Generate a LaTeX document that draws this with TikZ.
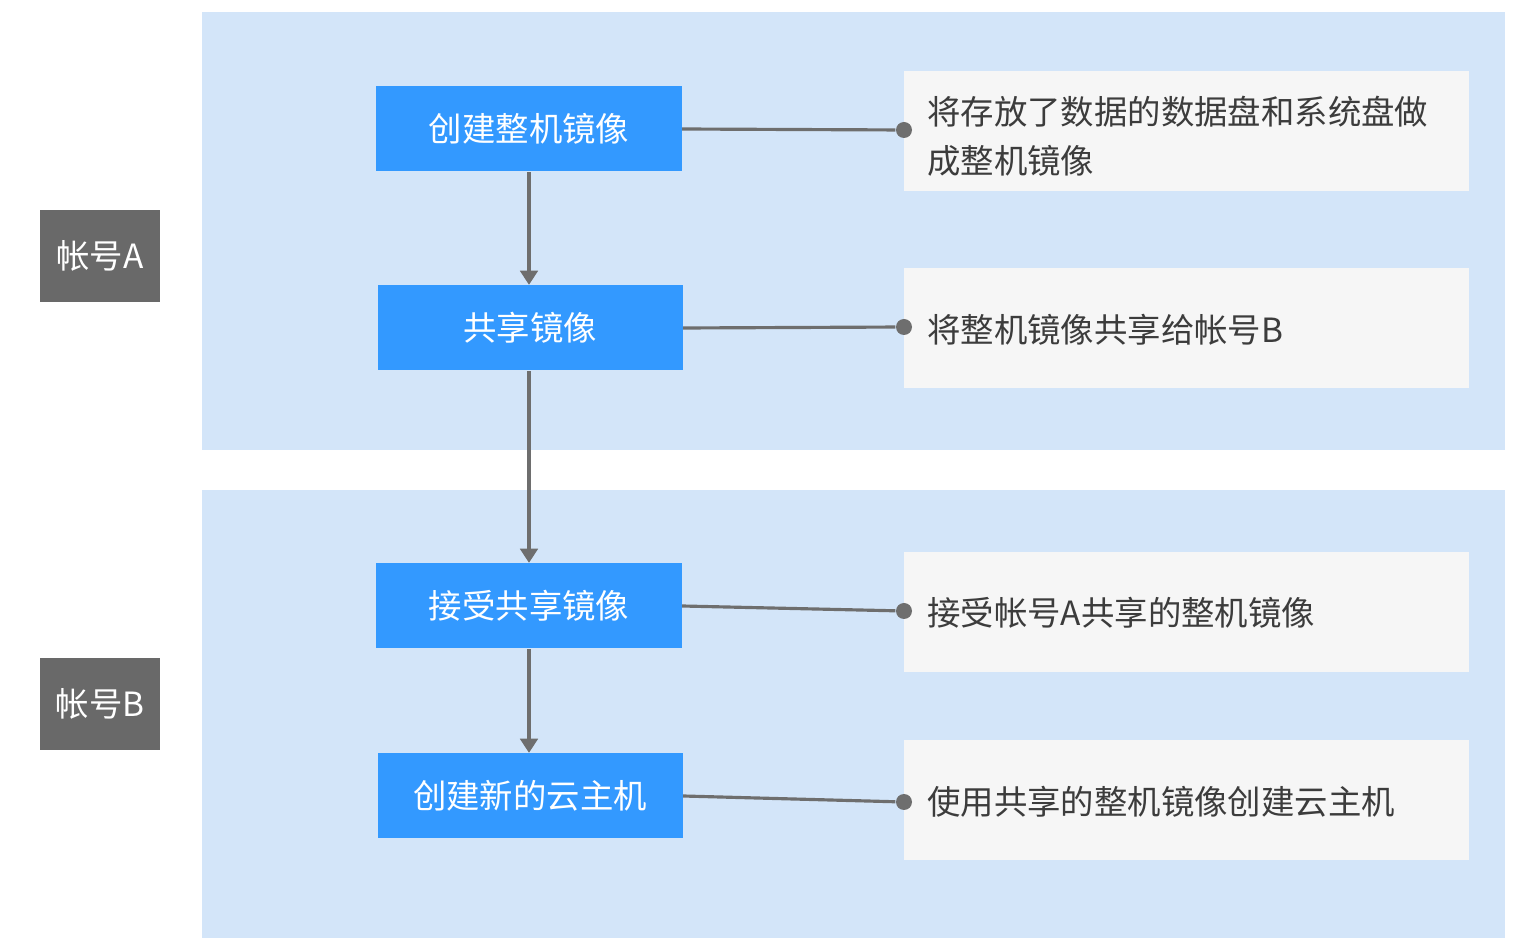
\documentclass[tikz,border=0pt]{standalone}
\usepackage{fontspec}
\setmainfont{Noto Sans CJK SC}
\usetikzlibrary{arrows.meta}
\definecolor{bandblue}{RGB}{211,229,249}
\definecolor{stepblue}{RGB}{51,153,255}
\definecolor{acctgray}{RGB}{105,105,105}
\definecolor{notegray}{RGB}{246,246,246}
\definecolor{linegray}{RGB}{110,110,110}
\definecolor{textgray}{RGB}{60,60,60}
\tikzset{
  stepbox/.style={fill=stepblue,text=white,minimum width=3.05cm,minimum height=0.85cm,inner sep=0pt,font=\fontsize{9.5pt}{11pt}\selectfont},
  acct/.style={fill=acctgray,text=white,minimum width=1.2cm,minimum height=0.92cm,inner sep=0pt,font=\fontsize{9.5pt}{11pt}\selectfont},
  note/.style={fill=notegray,text=textgray,minimum width=5.65cm,minimum height=1.2cm,inner sep=0pt,font=\fontsize{9.5pt}{13pt}\selectfont},
  link/.style={line width=0.9pt,draw=linegray},
  flow/.style={line width=0.9pt,draw=linegray,-{Triangle[length=4pt,width=5pt]}},
  dot/.style={circle,fill=linegray,minimum size=0.16cm,inner sep=0pt}
}
\begin{document}
\begin{tikzpicture}[x=1cm,y=1cm]
\useasboundingbox (0,0) rectangle (15.14,-9.47);

% bands
\fill[bandblue] (2.02,-0.12) rectangle (15.05,-4.50);
\fill[bandblue] (2.02,-4.90) rectangle (15.05,-9.38);

% accounts
\node[acct] (acctA) at (1.00,-2.56) {帐号A};
\node[acct] (acctB) at (1.00,-7.04) {帐号B};

% steps
\node[stepbox] (create) at (5.29,-1.29) {创建整机镜像};
\node[stepbox] (share) at (5.30,-3.28) {共享镜像};
\node[stepbox] (accept) at (5.29,-6.06) {接受共享镜像};
\node[stepbox] (newvm) at (5.30,-7.96) {创建新的云主机};

% notes
\node[note] (n1) at (11.865,-1.31) {};
\node[note] (n2) at (11.865,-3.28) {};
\node[note] (n3) at (11.865,-6.12) {};
\node[note] (n4) at (11.865,-8.00) {};
\node[anchor=west,align=left,text=textgray,font=\fontsize{9.5pt}{14pt}\selectfont] at (9.15,-1.36) {将存放了数据的数据盘和系统盘做\\成整机镜像};
\node[anchor=west,text=textgray,font=\fontsize{9.5pt}{11pt}\selectfont] at (9.15,-3.30) {将整机镜像共享给帐号B};
\node[anchor=west,text=textgray,font=\fontsize{9.5pt}{11pt}\selectfont] at (9.15,-6.13) {接受帐号A共享的整机镜像};
\node[anchor=west,text=textgray,font=\fontsize{9.5pt}{11pt}\selectfont] at (9.15,-8.02) {使用共享的整机镜像创建云主机};

% dots
\node[dot] (d1) at (9.04,-1.30) {};
\node[dot] (d2) at (9.04,-3.27) {};
\node[dot] (d3) at (9.04,-6.11) {};
\node[dot] (d4) at (9.04,-8.02) {};

\draw[link] (create.east) -- (d1);
\draw[link] (share.east) -- (d2);
\draw[link] (accept.east) -- (d3);
\draw[link] (newvm.east) -- (d4);

\draw[flow] (create.south -| 5.29,0) -- (share.north -| 5.29,0);
\draw[flow] (share.south -| 5.29,0) -- (accept.north -| 5.29,0);
\draw[flow] (accept.south -| 5.29,0) -- (newvm.north -| 5.29,0);
\end{tikzpicture}
\end{document}
